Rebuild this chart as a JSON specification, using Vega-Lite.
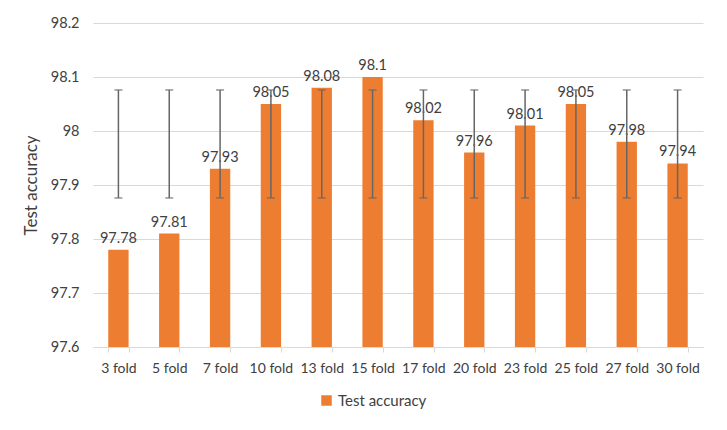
{
  "$schema": "https://vega.github.io/schema/vega-lite/v6.json",
  "width": 610,
  "height": 324,
  "autosize": {"type": "none"},
  "padding": {"left": 93, "top": 23, "right": 24, "bottom": 83},
  "background": "white",
  "config": {
    "font": "Lato",
    "view": {"stroke": null},
    "axis": {"labelFont": "Lato", "titleFont": "Lato", "labelColor": "#404040", "titleColor": "#404040"}
  },
  "data": {
    "values": [
      {"fold": "3 fold", "acc": 97.78, "lo": 97.876, "hi": 98.076},
      {"fold": "5 fold", "acc": 97.81, "lo": 97.876, "hi": 98.076},
      {"fold": "7 fold", "acc": 97.93, "lo": 97.876, "hi": 98.076},
      {"fold": "10 fold", "acc": 98.05, "lo": 97.876, "hi": 98.076},
      {"fold": "13 fold", "acc": 98.08, "lo": 97.876, "hi": 98.076},
      {"fold": "15 fold", "acc": 98.1, "lo": 97.876, "hi": 98.076},
      {"fold": "17 fold", "acc": 98.02, "lo": 97.876, "hi": 98.076},
      {"fold": "20 fold", "acc": 97.96, "lo": 97.876, "hi": 98.076},
      {"fold": "23 fold", "acc": 98.01, "lo": 97.876, "hi": 98.076},
      {"fold": "25 fold", "acc": 98.05, "lo": 97.876, "hi": 98.076},
      {"fold": "27 fold", "acc": 97.98, "lo": 97.876, "hi": 98.076},
      {"fold": "30 fold", "acc": 97.94, "lo": 97.876, "hi": 98.076}
    ]
  },
  "encoding": {
    "x": {
      "field": "fold", "type": "nominal", "sort": null,
      "scale": {"paddingInner": 0.6, "paddingOuter": 0.3},
      "axis": {"title": null, "labelAngle": 0, "labelFontSize": 14, "labelPadding": 9, "tickBand": "extent", "domainColor": "#D9D9D9", "tickColor": "#D9D9D9", "tickSize": 5, "grid": false}
    }
  },
  "layer": [
    {
      "mark": {"type": "bar", "color": "#ED7D31"},
      "encoding": {
        "y": {
          "field": "acc", "type": "quantitative",
          "scale": {"domain": [97.6, 98.2], "zero": false, "nice": false},
          "axis": {"title": "Test accuracy", "titleFontSize": 17, "titleFontWeight": "normal", "titlePadding": 10, "labelFontSize": 14.5, "values": [97.6, 97.7, 97.8, 97.9, 98.0, 98.1, 98.2], "labelOverlap": false, "domain": false, "ticks": false, "labelPadding": 14, "gridColor": "#D9D9D9", "labelExpr": "datum.value == 98 ? '98' : format(datum.value, '.1f')"}
        },
        "y2": {"datum": 97.6},
        "color": {
          "datum": "Test accuracy", "type": "nominal",
          "scale": {"range": ["#ED7D31"]},
          "legend": {"title": null, "orient": "none", "legendX": 226, "legendY": 370, "symbolType": "square", "symbolSize": 110, "labelFontSize": 15, "labelColor": "#404040", "symbolStrokeWidth": 0}
        }
      }
    },
    {
      "mark": {"type": "text", "baseline": "bottom", "dy": -4, "fontSize": 14.5, "color": "#404040"},
      "encoding": {
        "y": {"field": "acc", "type": "quantitative",
          "axis": {"title": "Test accuracy", "titleFontSize": 17, "titleFontWeight": "normal", "titlePadding": 10, "labelFontSize": 14.5, "values": [97.6, 97.7, 97.8, 97.9, 98.0, 98.1, 98.2], "labelOverlap": false, "domain": false, "ticks": false, "labelPadding": 14, "gridColor": "#D9D9D9", "labelExpr": "datum.value == 98 ? '98' : format(datum.value, '.1f')"}},
        "text": {"field": "acc", "type": "quantitative"}
      }
    },
    {
      "mark": {"type": "rule", "color": "#666666", "strokeWidth": 1.5},
      "encoding": {
        "y": {"field": "lo", "type": "quantitative",
          "axis": {"title": "Test accuracy", "titleFontSize": 17, "titleFontWeight": "normal", "titlePadding": 10, "labelFontSize": 14.5, "values": [97.6, 97.7, 97.8, 97.9, 98.0, 98.1, 98.2], "labelOverlap": false, "domain": false, "ticks": false, "labelPadding": 14, "gridColor": "#D9D9D9", "labelExpr": "datum.value == 98 ? '98' : format(datum.value, '.1f')"}},
        "y2": {"field": "hi"}
      }
    },
    {
      "mark": {"type": "tick", "color": "#666666", "thickness": 1.5, "size": 8},
      "encoding": {"y": {"field": "lo", "type": "quantitative",
          "axis": {"title": "Test accuracy", "titleFontSize": 17, "titleFontWeight": "normal", "titlePadding": 10, "labelFontSize": 14.5, "values": [97.6, 97.7, 97.8, 97.9, 98.0, 98.1, 98.2], "labelOverlap": false, "domain": false, "ticks": false, "labelPadding": 14, "gridColor": "#D9D9D9", "labelExpr": "datum.value == 98 ? '98' : format(datum.value, '.1f')"}}}
    },
    {
      "mark": {"type": "tick", "color": "#666666", "thickness": 1.5, "size": 8},
      "encoding": {"y": {"field": "hi", "type": "quantitative",
          "axis": {"title": "Test accuracy", "titleFontSize": 17, "titleFontWeight": "normal", "titlePadding": 10, "labelFontSize": 14.5, "values": [97.6, 97.7, 97.8, 97.9, 98.0, 98.1, 98.2], "labelOverlap": false, "domain": false, "ticks": false, "labelPadding": 14, "gridColor": "#D9D9D9", "labelExpr": "datum.value == 98 ? '98' : format(datum.value, '.1f')"}}}
    }
  ]
}
